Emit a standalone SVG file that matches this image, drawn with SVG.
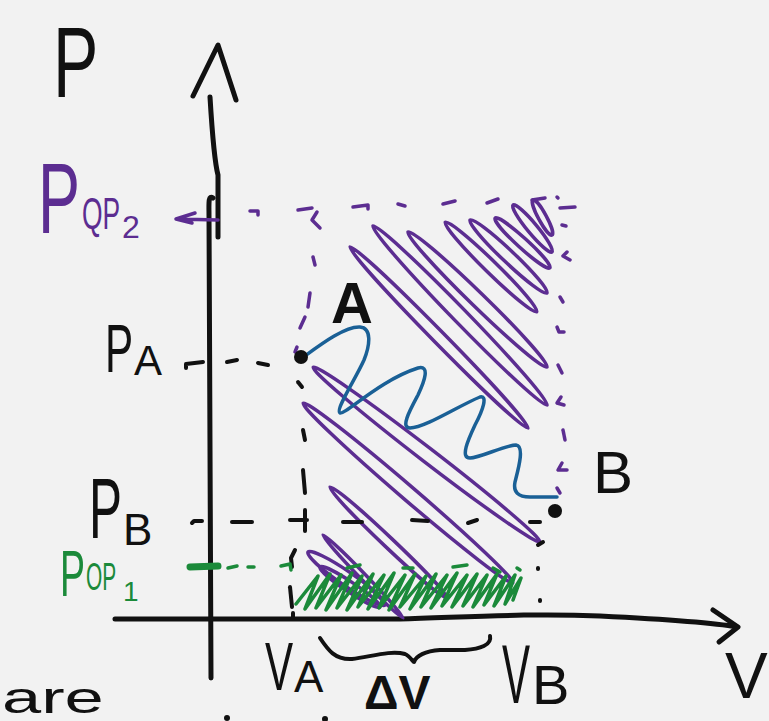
<svg xmlns="http://www.w3.org/2000/svg" width="769" height="721" viewBox="0 0 769 721">
<defs>
<style>
.bk{fill:none;stroke:#111;stroke-width:4;stroke-linecap:round;stroke-linejoin:round}
.ax{fill:none;stroke:#111;stroke-width:5;stroke-linecap:round;stroke-linejoin:round}
.pu{fill:none;stroke:#5c2d91;stroke-width:3.5;stroke-linecap:round;stroke-linejoin:round}
.gr{fill:none;stroke:#1b8a3a;stroke-width:3.5;stroke-linecap:round;stroke-linejoin:round}
.bl{fill:none;stroke:#1a6096;stroke-width:3.5;stroke-linecap:round;stroke-linejoin:round}
.t{font-family:"Liberation Sans",Arial,sans-serif;fill:#111}
.tp{font-family:"Liberation Sans",Arial,sans-serif;fill:#5c2d91}
.tg{font-family:"Liberation Sans",Arial,sans-serif;fill:#1b8a3a}
</style>
</defs>
<rect width="769" height="721" fill="#f2f2f2"/>

<g id="axes">
<path class="ax" d="M210 97 C212 130 214 160 218 175 L218 237"/>
<path class="ax" d="M213 198 C208 194 209 205 209 215 L211 678"/>
<path class="ax" d="M193 96 L218 45 L236 100"/>
<path class="ax" d="M115 619 L400 619 C470 617 530 613 600 616 C660 619 710 622 737 627"/>
<path class="ax" d="M713 610 L738 627 L719 642"/>
</g>

<g id="hatch-purple" class="pu">
<ellipse cx="542.5" cy="217.5" rx="20" ry="4" transform="rotate(61.5 542.5 217.5)"/>
<ellipse cx="532.5" cy="228.5" rx="30.5" ry="5" transform="rotate(50.3 532.5 228.5)"/>
<ellipse cx="522.5" cy="243" rx="37" ry="5" transform="rotate(42.3 522.5 243)"/>
<ellipse cx="508.5" cy="256.5" rx="53" ry="6" transform="rotate(43.5 508.5 256.5)"/>
<ellipse cx="491" cy="267" rx="64" ry="6" transform="rotate(44.4 491 267)"/>
<ellipse cx="477.5" cy="299.5" rx="97" ry="7" transform="rotate(44.2 477.5 299.5)"/>
<ellipse cx="460" cy="315.5" rx="125" ry="7" transform="rotate(45.8 460 315.5)"/>
<ellipse cx="439" cy="337.5" rx="127" ry="6" transform="rotate(45.5 439 337.5)"/>
<ellipse cx="426.5" cy="454.5" rx="143" ry="7" transform="rotate(37.6 426.5 454.5)"/>
<ellipse cx="408" cy="493" rx="138" ry="7" transform="rotate(40.6 408 493)"/>
<ellipse cx="388.5" cy="542.5" rx="80.6" ry="5" transform="rotate(43.5 388.5 542.5)"/>
<ellipse cx="363" cy="576.5" rx="57.6" ry="3" transform="rotate(46 363 576.5)"/>
<ellipse cx="346.5" cy="578.5" rx="46.7" ry="7" transform="rotate(34.5 346.5 578.5)"/>
<ellipse cx="350" cy="587" rx="36" ry="5" transform="rotate(33.7 350 587)"/>
</g>

<g id="hatch-green" class="gr">
<path d="M296 604 L318 576 L305 609 L330 574 L316 608 L341 575 L326 610 L352 573 L337 608 L362 576 L347 610 L373 574 L358 607 L384 575 L368 609 L394 573 L379 608 L405 575 L389 610 L415 574 L400 607 L426 576 L410 609 L436 574 L421 607 L447 575 L431 608 L457 573 L442 606 L467 575 L452 607 L477 574 L463 606 L487 575 L473 607 L497 574 L484 605 L506 576 L494 606 L515 575 L505 604 L521 578 L513 600"/>
</g>

<g id="connectors">
<g class="pu">
<path d="M218 220 L176 219 M195 213 L176 219 L192 223"/>
<path d="M250 211 L258 211 L258 215"/>
<path d="M298 210 L312 208 M317 212 L312 220 L320 228"/>
<path d="M353 207 L368 205 L368 209"/>
<path d="M398 204 L405 206"/>
<path d="M443 204 L455 201"/>
<path d="M487 203 L498 199"/>
<path d="M532 200 L545 198"/>
<path d="M557 197 L558 198"/>
<path d="M560 208 L575 207"/>
<path d="M562 225 L566 226"/>
<path d="M567 252 L563 256 L570 260"/>
<path d="M560 297 L563 302"/>
<path d="M557 327 L559 332 L564 332"/>
<path d="M558 365 L562 373"/>
<path d="M561 397 L557 403 L564 405"/>
<path d="M563 430 L565 440"/>
<path d="M562 463 L558 470 L567 470"/>
<path d="M557 488 L560 493"/>
<path d="M313 257 L315 265"/>
<path d="M310 293 L308 307"/>
<path d="M305 317 L300 328"/>
<path d="M297 347 L295 352"/>
</g>
<g class="bk">
<path d="M186 368 L186 364 L203 362"/>
<path d="M227 362 L237 360"/>
<path d="M258 363 L268 365"/>
<path d="M298 382 L302 387"/>
<path d="M303 430 L305 440"/>
<path d="M303 470 L305 493"/>
<path d="M290 520 L307 520 M305 510 L305 531"/>
<path d="M295 550 L291 558 L292 567"/>
<path d="M290 587 L292 607"/>
<path d="M293 613 L293 617"/>
<path d="M192 523 L194 521 L202 521"/>
<path d="M232 522 L252 522"/>
<path d="M343 522 L362 522"/>
<path d="M412 520 L428 521"/>
<path d="M468 523 L477 520"/>
<path d="M530 522 L540 522"/>
<path d="M538 545 L543 542"/>
<path d="M538 568 L538 569"/>
<path d="M540 600 L540 601"/>
</g>
<g class="gr">
<path d="M190 567 L218 566" style="stroke-width:7"/>
<path d="M228 568 L237 566"/>
<path d="M248 567 L254 567"/>
<path d="M281 566 L290 564 L291 570"/>
<path d="M347 568 L360 565"/>
<path d="M403 568 L413 568"/>
<path d="M453 567 L467 565"/>
<path d="M493 568 L500 572"/>
<path d="M517 568 L520 570"/>
</g>
</g>

<g id="process-curve">
<path class="bl" d="M302 358 C320 345 345 326 360 327 C372 328 370 345 364 360 C355 380 335 410 340 413 C345 415 380 380 418 368 C430 365 425 380 418 395 C410 410 400 428 410 428 C425 428 460 405 480 397 C488 395 483 410 475 425 C468 440 460 458 470 458 C480 458 505 445 516 445 C525 446 518 470 515 482 C513 492 518 497 530 497 L557 497"/>
</g>

<g id="point-A">
<circle cx="301" cy="357" r="7" fill="#111"/>
<text class="t" x="331" y="323" font-size="58" font-weight="bold">A</text>
</g>
<g id="point-B">
<circle cx="555" cy="511" r="7" fill="#111"/>
<text class="t" x="593" y="493" font-size="60">B</text>
</g>

<g id="label-P">
<text class="t" font-size="100" transform="translate(53 97) scale(0.68 1)">P</text>
</g>
<g id="label-PQP2">
<text class="tp" font-size="100" transform="translate(38 233) scale(0.63 1)">P</text>
<text class="tp" font-size="44" transform="translate(82 229) scale(0.6 1)">QP</text>
<text class="tp" x="122" y="238" font-size="32">2</text>
</g>
<g id="label-PA">
<text class="t" font-size="68" transform="translate(105 372) scale(0.62 1)">P</text>
<text class="t" x="134" y="375" font-size="42">A</text>
</g>
<g id="label-PB">
<text class="t" font-size="86" transform="translate(89 538) scale(0.575 1)">P</text>
<text class="t" x="123" y="545" font-size="44">B</text>
</g>
<g id="label-POP1">
<text class="tg" font-size="64" transform="translate(60 596) scale(0.585 1)">P</text>
<text class="tg" font-size="38" transform="translate(86 590) scale(0.55 1)">OP</text>
<text class="tg" x="123" y="601" font-size="28">1</text>
</g>
<g id="label-VA">
<text class="t" font-size="68" transform="translate(265 690) scale(0.62 1)">V</text>
<text class="t" x="294" y="692" font-size="44">A</text>
</g>
<g id="brace">
<path class="bk" d="M320 638 C328 650 335 660 352 659 C370 657 390 650 405 654 C410 656 413 662 414 662 C416 656 425 651 440 650 L465 650 C480 649 492 645 490 636"/>
</g>
<g id="label-dV">
<text class="t" x="364" y="709" font-size="48" font-weight="bold">ΔV</text>
</g>
<g id="label-VB">
<text class="t" font-size="84" transform="translate(502 703) scale(0.5 1)">V</text>
<text class="t" x="532" y="704" font-size="56">B</text>
</g>
<g id="label-V">
<text class="t" x="725" y="698" font-size="64">V</text>
</g>
<g id="cut-text">
<text class="t" font-size="44" transform="translate(2 713) scale(1.6 1)">are</text>
<circle cx="227" cy="718" r="3" fill="#111"/>
<circle cx="325" cy="719" r="3" fill="#111"/>
</g>
</svg>
